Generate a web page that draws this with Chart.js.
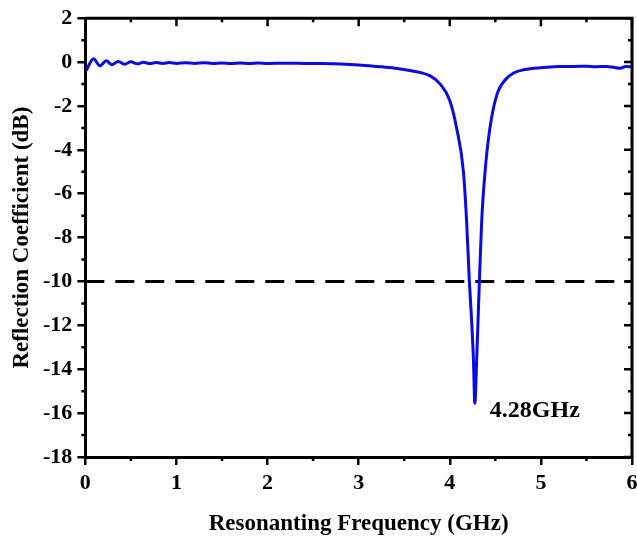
<!DOCTYPE html>
<html lang="en">
<head>
  <meta charset="UTF-8">
  <title>Reflection Coefficient</title>
  <script src="https://cdn.jsdelivr.net/npm/chart.js"></script>
  <style>
    body {
      margin: 0;
      padding: 0;
      background: #fff;
    }
    .chart-container {
      position: relative;
      width: 637px;
      height: 539px;
    }
  </style>
</head>
<body>
  <div class="chart-container">
    <canvas id="s11Chart"></canvas>
  </div>

  <script>
    // Frequency samples (GHz)
    const freq = [
      0.01, 0.09, 0.16, 0.23, 0.29, 0.36, 0.43, 0.50, 0.57, 0.64, 0.71, 0.78, 0.85, 0.92,
      1.0, 1.1, 1.2, 1.3, 1.4, 1.5, 1.6, 1.7, 1.8, 1.9, 2.0, 2.2, 2.4, 2.6, 2.8, 3.0,
      3.2, 3.4, 3.56, 3.67, 3.78, 3.89, 4.0, 4.076, 4.15, 4.185, 4.215, 4.24, 4.26, 4.275,
      4.295, 4.31, 4.325, 4.35, 4.387, 4.44, 4.515, 4.62, 4.7, 4.81, 4.9, 5.0, 5.2, 5.36,
      5.5, 5.6, 5.72, 5.8, 5.87, 5.93, 6.0
    ];
    // Reflection coefficient (dB)
    const s11 = [
      -0.38, 0.15, -0.17, 0.06, -0.12, 0.03, -0.10, 0.01, -0.08, -0.01, -0.07, -0.02, -0.06, -0.02,
      -0.06, -0.03, -0.06, -0.03, -0.06, -0.04, -0.06, -0.04, -0.06, -0.04, -0.06, -0.05, -0.06, -0.07, -0.09, -0.13,
      -0.20, -0.28, -0.38, -0.47, -0.62, -0.98, -1.75, -3.03, -5.0, -7.27, -10.0, -11.8, -13.6, -15.55,
      -13.6, -11.8, -10.0, -7.27, -5.0, -3.03, -1.52, -0.76, -0.50, -0.35, -0.29, -0.26, -0.20, -0.20,
      -0.19, -0.21, -0.20, -0.24, -0.28, -0.20, -0.22
    ];
    // -10 dB reference line
    const refFreq = [0, 6];
    const refLevel = -10;

    const resonance = { label: '4.28GHz', x: 4.44, y: -15.9 };

    const xTicksMajor = [0, 1, 2, 3, 4, 5, 6];
    const yTicksMajor = [2, 0, -2, -4, -6, -8, -10, -12, -14, -16, -18];

    const serif = '"Liberation Serif", "Times New Roman", serif';

    // Frame on top/right, minor ticks, mirrored ticks and annotation
    const framePlugin = {
      id: 'frame',
      afterDraw(chart) {
        const { ctx, chartArea: a, scales: { x, y } } = chart;
        ctx.save();
        ctx.strokeStyle = '#000';
        ctx.lineWidth = 3;
        ctx.beginPath();
        ctx.moveTo(a.left, a.top);
        ctx.lineTo(a.right, a.top);
        ctx.lineTo(a.right, a.bottom);
        ctx.stroke();

        ctx.lineWidth = 2.5;
        ctx.beginPath();
        // x ticks: minor outward on bottom, all inward on top
        for (let v = 0; v <= 6.001; v += 0.5) {
          const px = x.getPixelForValue(v);
          const major = Math.abs(v - Math.round(v)) < 1e-6;
          if (!major) {
            ctx.moveTo(px, a.bottom);
            ctx.lineTo(px, a.bottom + 4);
          }
          ctx.moveTo(px, a.top);
          ctx.lineTo(px, a.top + (major ? 8 : 4));
        }
        // y ticks: minor outward on left, all inward on right
        for (let v = -18; v <= 2.001; v += 1) {
          const py = y.getPixelForValue(v);
          const major = v % 2 === 0;
          if (!major) {
            ctx.moveTo(a.left, py);
            ctx.lineTo(a.left - 4, py);
          }
          ctx.moveTo(a.right, py);
          ctx.lineTo(a.right - (major ? 8 : 4), py);
        }
        ctx.stroke();

        ctx.fillStyle = '#000';
        ctx.font = 'bold 24px ' + serif;
        ctx.textBaseline = 'middle';
        ctx.textAlign = 'left';
        ctx.fillText(resonance.label, x.getPixelForValue(resonance.x), y.getPixelForValue(resonance.y));
        ctx.restore();
      }
    };

    const ctx = document.getElementById('s11Chart').getContext('2d');
    new Chart(ctx, {
      type: 'line',
      data: {
        datasets: [{
          data: freq.map((f, i) => ({ x: f, y: s11[i] })),
          borderColor: 'rgb(10, 10, 225)',
          borderWidth: 3,
          pointRadius: 0,
          cubicInterpolationMode: 'monotone',
          fill: false
        }, {
          data: refFreq.map(f => ({ x: f, y: refLevel })),
          borderColor: '#000',
          borderWidth: 3,
          borderDash: [19, 11],
          pointRadius: 0,
          fill: false
        }]
      },
      options: {
        responsive: true,
        maintainAspectRatio: false,
        animation: false,
        layout: { padding: { left: 11, right: 5, top: 10, bottom: 1 } },
        plugins: {
          legend: { display: false },
          tooltip: { enabled: false }
        },
        scales: {
          x: {
            type: 'linear',
            min: 0,
            max: 6,
            afterBuildTicks: s => { s.ticks = xTicksMajor.map(v => ({ value: v })); },
            afterFit: s => { s.paddingRight = 0; s.paddingLeft = 0; },
            ticks: {
              color: '#000',
              padding: 5,
              font: { family: serif, size: 22, weight: 'bold' }
            },
            grid: {
              drawOnChartArea: false,
              color: '#000',
              lineWidth: 2.5,
              tickLength: 8
            },
            border: { color: '#000', width: 3 },
            title: {
              display: true,
              text: 'Resonanting Frequency (GHz)',
              color: '#000',
              padding: { top: 9, bottom: 0 },
              font: { family: serif, size: 23, weight: 'bold' }
            }
          },
          y: {
            type: 'linear',
            min: -18,
            max: 2,
            afterBuildTicks: s => { s.ticks = yTicksMajor.map(v => ({ value: v })); },
            ticks: {
              color: '#000',
              padding: 5,
              font: { family: serif, size: 22, weight: 'bold' }
            },
            grid: {
              drawOnChartArea: false,
              color: '#000',
              lineWidth: 2.5,
              tickLength: 8
            },
            border: { color: '#000', width: 3 },
            title: {
              display: true,
              text: 'Reflection Coefficient (dB)',
              color: '#000',
              padding: { top: 0, bottom: 4 },
              font: { family: serif, size: 23, weight: 'bold', lineHeight: 1 }
            }
          }
        }
      },
      plugins: [framePlugin]
    });
  </script>
</body>
</html>
